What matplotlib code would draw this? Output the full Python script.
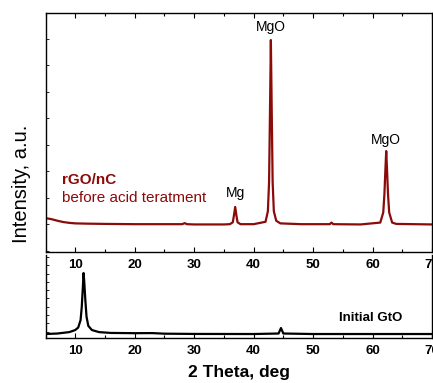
import matplotlib
matplotlib.use("Agg")
import matplotlib.pyplot as plt
from matplotlib.ticker import MultipleLocator

plt.rcParams['font.family'] = ['Liberation Sans', 'DejaVu Sans']

# Top spectrum: rGO/nC before acid treatment (arbitrary units)
top_x = [5, 6, 7, 8, 9, 10, 12, 15, 20, 25, 28, 28.4, 28.8, 30, 35, 36.0, 36.5, 36.7,
         36.9, 37.1, 37.3, 37.8, 40, 42.0, 42.4, 42.6, 42.75, 42.9, 43.05, 43.2, 43.4,
         43.8, 44.5, 48, 52.8, 53.1, 53.4, 58, 61.3, 61.8, 62.0, 62.15, 62.3, 62.45,
         62.6, 62.8, 63.3, 64, 70]
top_y = [124, 120, 114, 109, 106, 104, 103, 102, 101, 101, 101, 105, 101, 100, 100, 101, 108, 135,
         166, 135, 108, 101, 101, 110, 150, 260, 520, 796, 520, 260, 150,
         114, 104, 101, 101, 107, 101, 100, 107, 145, 215, 300, 377, 300,
         215, 145, 107, 102, 100]

# Bottom spectrum: initial GtO
bot_x = [5, 7, 9, 10, 10.5, 10.9, 11.1, 11.3, 11.4, 11.5, 11.7, 11.9, 12.2, 12.8, 14, 16,
         20, 23, 25, 30, 40, 44.2, 44.6, 45.0, 50, 60, 70]
bot_y = [7.2, 7.8, 9.5, 12, 15, 24, 40, 66, 80.7, 72, 48, 28, 17, 12, 9.5, 8.5,
         8.2, 8.3, 7.6, 7.3, 7.2, 7.8, 14.4, 7.8, 7.2, 7.2, 7.2]

peak_labels = ["Mg", "MgO", "MgO"]
peak_pos = [37.0, 42.9, 62.3]
peak_text_y = [192, 818, 392]

red = '#8B0A0A'
W, H = 433, 383
fig = plt.figure(figsize=(W / 100, H / 100), dpi=100)

L, R = 45.5, 432
ax2 = fig.add_axes([L / W, (H - 338) / H, (R - L) / W, 83 / H])
ax1 = fig.add_axes([L / W, (H - 252) / H, (R - L) / W, 239 / H])
ax2.set_facecolor('none')
ax1.set_zorder(3)

ax1.plot(top_x, top_y, color=red, lw=1.6)
ax2.plot(bot_x, bot_y, color='black', lw=1.6)

for ax in (ax1, ax2):
    ax.set_xlim(5, 70)
    ax.xaxis.set_major_locator(MultipleLocator(10))
    ax.xaxis.set_minor_locator(MultipleLocator(5))
    ax.tick_params(axis='both', which='both', direction='in', labelleft=False)
    ax.tick_params(axis='x', which='major', length=3.5, width=0.8, labelsize=9.5, pad=5)
    ax.tick_params(axis='x', which='minor', length=2, width=0.8)
    ax.tick_params(axis='y', which='major', length=2.5, width=0.6)
    for s in ax.spines.values():
        s.set_linewidth(1.0)

ax1.set_ylim(-4, 898)
ax1.yaxis.set_major_locator(MultipleLocator(100))
ax1.tick_params(axis='x', which='both', top=True)

ax2.set_ylim(2.4, 102.4)
ax2.yaxis.set_major_locator(MultipleLocator(10))
ax2.spines['top'].set_visible(False)

for lab in ax1.get_xticklabels() + ax2.get_xticklabels():
    lab.set_fontweight('bold')

for t, x, y in zip(peak_labels, peak_pos, peak_text_y):
    ax1.text(x, y, t, ha='center', va='bottom', fontsize=10)

ax1.text(0.042, 0.300, "rGO/nC", transform=ax1.transAxes, color=red,
         fontsize=11, fontweight='bold', va='center', ha='left')
ax1.text(0.042, 0.228, "before acid teratment", transform=ax1.transAxes, color=red,
         fontsize=11, va='center', ha='left')

ax2.text(54.4, 26.5, "Initial GtO", fontsize=9.5, fontweight='bold', ha='left', va='center')

fig.text(22 / W, 1 - 184 / H, "Intensity, a.u.", rotation=90, fontsize=14.5,
         ha='center', va='center')
fig.text((L + R) / 2 / W, 1 - 372 / H, "2 Theta, deg", fontsize=12.5,
         fontweight='bold', ha='center', va='center')

fig.savefig("out.png", dpi=100)
